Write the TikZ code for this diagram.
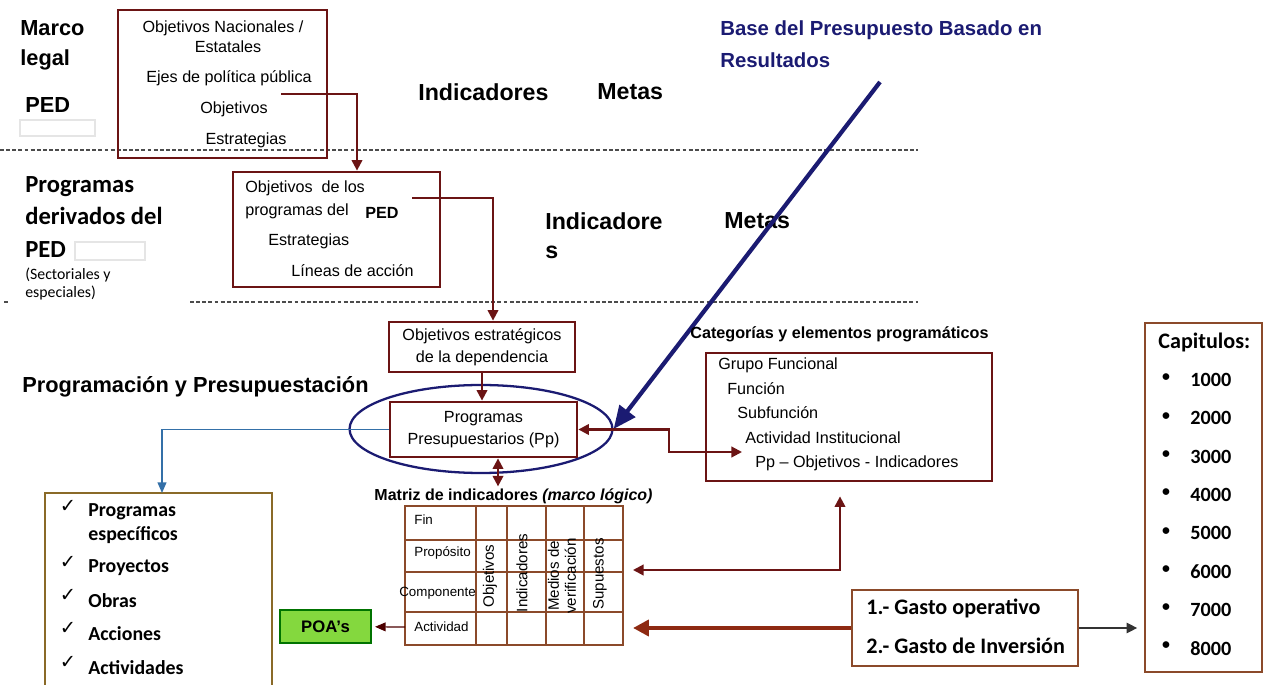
\documentclass[tikz,border=0pt]{standalone}
\usepackage{fontspec}
\setmainfont{Liberation Sans}
\newfontfamily\calibri{Carlito}
\newfontfamily\simbolos{DejaVu Sans}
\usetikzlibrary{calc,arrows.meta,shapes.geometric}
\definecolor{vino}{HTML}{6B1414}
\definecolor{marino}{HTML}{1B1B72}
\definecolor{azul}{HTML}{3470A8}
\definecolor{cafe}{HTML}{8B4A2A}
\definecolor{ocre}{HTML}{8A6A28}
\definecolor{verde}{HTML}{84D83E}
\definecolor{ladrillo}{HTML}{8E2A12}

\begin{document}
\begin{tikzpicture}[x=0.02cm, y=-0.02cm,
    caja/.style={draw=vino, line width=1.6pt, inner sep=0pt},
    flecha/.style={vino, line width=1.2pt, -{Triangle[length=6pt,width=6pt]}},
    doble/.style={vino, line width=1.2pt, {Triangle[length=6pt,width=6pt]}-{Triangle[length=6pt,width=6pt]}},
    punteada/.style={black!70, line width=0.6pt, dash pattern=on 2.2pt off 1.3pt},
    rejilla/.style={cafe, line width=0.9pt},
    titulo/.style={font=\bfseries\fontsize{12.4}{17}\selectfont, inner sep=0pt, anchor=west, align=left},
    grande/.style={titulo, font=\bfseries\fontsize{13.2}{16}\selectfont},
    izq/.style={titulo, font=\calibri\bfseries\fontsize{14}{17}\selectfont},
    texto/.style={font=\fontsize{9.2}{12.5}\selectfont, inner sep=0pt},
    chico/.style={font=\fontsize{7.6}{8.5}\selectfont, inner sep=0pt},
    girado/.style={font=\fontsize{8.6}{9.6}\selectfont, inner sep=0pt, rotate=90},
    lista/.style={font=\calibri\bfseries\fontsize{11.3}{13}\selectfont, inner sep=0pt, anchor=west},
  ]
  \useasboundingbox (0,0) rectangle (1264,685); % 画布

  \draw[punteada] (0,150) -- (918,150); % 虚线 1
  \draw[punteada] (4,302) -- (10,302); % 虚线 2
  \draw[punteada] (190,302) -- (918,302);

  % 左侧标题
  \node[titulo] at (20,45) {Marco\\legal};
  \node[titulo] at (25,105) {PED};
  \draw[gray!20, line width=1pt] (20,120) rectangle (95,136);
  \node[izq] at (25,187) {Programas};
  \node[izq] at (25,216) {derivados del};
  \node[izq] at (25,250) {PED};
  \draw[gray!20, line width=1pt] (75,242) rectangle (145,260);
  \node[titulo, font=\calibri\fontsize{9}{10}\selectfont] at (25,275) {(Sectoriales y};
  \node[titulo, font=\calibri\fontsize{9}{10}\selectfont] at (25,293) {especiales)};
  \node[titulo] at (22,387) {Programación y Presupuestación};

  % 标题
  \node[titulo, text=marino, font=\bfseries\fontsize{11.6}{18.1}\selectfont] at (720,44) {Base del Presupuesto Basado en\\Resultados};
  \node[grande] at (418,92) {Indicadores};
  \node[grande] at (597,92) {Metas};
  \node[grande] at (545,221) {Indicadore};
  \node[grande] at (545,252) {s};
  \node[grande] at (724,221) {Metas};

  % 方框 1
  \node[caja, minimum width=4.18cm, minimum height=2.96cm] (marco) at (222.5,84) {};
  \node[texto] at (223,28) {Objetivos Nacionales /};
  \node[texto] at (228,47) {Estatales};
  \node[texto] (ejes) at (229,78) {Ejes de política pública};
  \node[texto] at (234,109) {Objetivos};
  \node[texto] at (246,140) {Estrategias};

  % 方框 2
  \node[caja, minimum width=4.14cm, minimum height=2.30cm] (ped) at (336.5,229.5) {};
  \node[texto, anchor=west] at (245,188) {Objetivos\ \ de los};
  \node[texto, anchor=west] at (245,211) {programas del};
  \node[texto, anchor=west, font=\bfseries\fontsize{9.2}{10}\selectfont] at (365,213) {PED};
  \node[texto, anchor=west] at (268,241) {Estrategias};
  \node[texto, anchor=west] at (291,271) {Líneas de acción};

  % 方框 3, 4
  \node[caja, texto, minimum width=3.72cm, minimum height=1.0cm, align=center] (dep) at (482,347) {Objetivos estratégicos\\de la dependencia};
  \node[draw=marino, line width=1.3pt, ellipse, minimum width=5.26cm, minimum height=1.76cm, inner sep=0pt] (elipse) at (481,429) {};
  \node[caja, texto, minimum width=3.74cm, minimum height=1.1cm, align=center] (pp) at (483.5,429.5) {Programas\\Presupuestarios (Pp)};

  % 箭头
  \coordinate (ejesfin) at (281,94);
  \draw[flecha] (ejesfin) -| ($(ped.north)+(20.5,0)$);
  \coordinate (pedfin) at (412,198);
  \draw[flecha] (pedfin) -| ($(dep.north)+(11,0)$);
  \draw[flecha] (dep.south) -- (dep.south |- pp.north);
  \coordinate (base) at (880,82);
  \draw[marino, line width=2.4pt, -{Triangle[length=13pt,width=11pt]}] (base) -- (elipse.east);

  % 类别
  \node[titulo, font=\bfseries\fontsize{9.2}{10}\selectfont] at (690,334) {Categorías y elementos programáticos};
  \node[caja, minimum width=5.72cm, minimum height=2.56cm] (cat) at (849,417) {};
  \node[texto, anchor=west] at (718,365) {Grupo Funcional};
  \node[texto, anchor=west] at (727,389) {Función};
  \node[texto, anchor=west] at (737,413) {Subfunción};
  \node[texto, anchor=west] at (745,438) {Actividad Institucional};
  \node[texto, anchor=west] at (755,463) {Pp -- Objetivos - Indicadores};
  \coordinate (catin) at (742,452);
  \draw[doble] (pp.east) -- ++(91,0) |- (catin);

  % 矩阵
  \node[font=\bfseries\fontsize{9.1}{10}\selectfont, inner sep=0pt] (mtit) at (513.5,496) {Matriz de indicadores \textit{(marco lógico)}};
  \draw[doble] ($(pp.south)+(14.5,0)$) -- ++(0,28);
  \draw[rejilla] (405,506) rectangle (623,645);
  \foreach \x in {476,507,546,584} \draw[rejilla] (\x,506) -- (\x,645);
  \foreach \y in {540,572,612} \draw[rejilla] (405,\y) -- (623,\y);
  \node[chico, anchor=west] at (414,520) {Fin};
  \node[chico, anchor=west] at (414,553) {Propósito};
  \node[chico, anchor=west] at (399,593) {Componente};
  \node[chico, anchor=west] at (414,627) {Actividad};
  \node[girado] at (490,576) {Objetivos};
  \node[girado] at (522,573) {Indicadores};
  \node[girado, align=center] at (562,576) {Medios de\\verificación};
  \node[girado] at (600,574) {Supuestos};
  \coordinate (mder1) at (633,570);
  \draw[doble] (mder1) -| ($(cat.south)+(-9,14)$);

  % 支出
  \node[draw=cafe, line width=1.3pt, minimum width=4.52cm, minimum height=1.52cm] (gasto) at (965,628) {};
  \node[lista, font=\calibri\bfseries\fontsize{12.6}{14}\selectfont] at (866,608) {1.- Gasto operativo};
  \node[lista, font=\calibri\bfseries\fontsize{12.6}{14}\selectfont] at (866,646) {2.- Gasto de Inversión};
  \coordinate (mder2) at (633,628);
  \draw[ladrillo, line width=2.4pt, -{Triangle[length=9pt,width=9pt]}] (gasto.west) -- (mder2);

  % 章节
  \node[draw=cafe, line width=1pt, minimum width=2.34cm, minimum height=6.98cm] (cap) at (1203.5,497.5) {};
  \node[lista, font=\calibri\bfseries\fontsize{12.6}{14}\selectfont] at (1158,342) {Capitulos:};
  \foreach \n [count=\i from 0] in {1000,2000,...,8000} {
    \node[lista, font=\calibri\bfseries\fontsize{11.5}{13}\selectfont] at (1190,{380+38.3*\i}) {\n};
    \node[font=\calibri\bfseries\fontsize{9}{11}\selectfont, inner sep=0pt] at (1166,{378+38.3*\i}) {•};
  }
  \draw[black!80, line width=0.7pt, -{Triangle[length=6pt,width=6pt]}, shorten >=0.14cm] (gasto.east) -- (gasto.east -| cap.west);

  % 列表
  \draw[ocre, line width=1.3pt] (45,690) |- (272,493) -- (272,690);
  \coordinate (lista) at (162,493);
  \draw[azul, line width=0.8pt, -{Triangle[length=6pt,width=5pt]}] (pp.west) -| (lista);
  \node[lista] at (88,512) {Programas};
  \node[lista] at (88,535) {específicos};
  \foreach \y/\t in {568/Proyectos,601/Obras,634/Acciones,668/Actividades}
    \node[lista] at (88,\y) {\t};
  \foreach \y in {506,562,595,628,662}
    \node[font=\simbolos\fontsize{11}{12}\selectfont, inner sep=0pt] at (68,\y) {✓};

  % POA
  \node[draw=green!45!black, fill=verde, line width=0.6pt, minimum width=1.82cm, minimum height=0.66cm, font=\bfseries\fontsize{9.5}{11}\selectfont] (poa) at (325.5,626.5) {POA’s};
  \coordinate (mizq) at (405,627);
  \draw[black!70!red, line width=0.7pt, -{Triangle[length=6pt,width=5pt]}, shorten >=2pt] (mizq) -- (poa);
\end{tikzpicture}
\end{document}
